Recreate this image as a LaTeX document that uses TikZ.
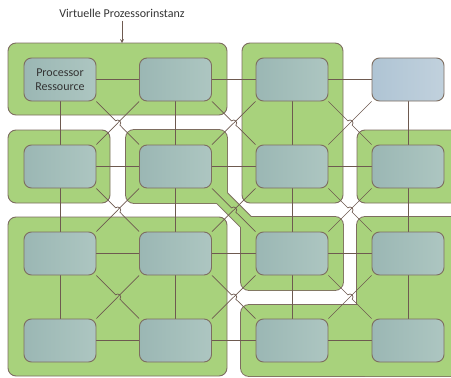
\documentclass[tikz,border=0pt]{standalone}
\usepackage{fontspec}
\setmainfont{Carlito}
\usetikzlibrary{calc,shapes,arrows}

\definecolor{vmgreen}{HTML}{A8D27C}
\definecolor{vmedge}{HTML}{7D6D60}
\definecolor{cpufill}{HTML}{9BB7B4}
\definecolor{cpulight}{HTML}{ADC6C1}
\definecolor{freefill}{HTML}{AFC4D4}
\definecolor{freelight}{HTML}{C1D1DD}
\definecolor{linkcol}{HTML}{6E5A50}

\pgfdeclarelayer{bg}
\pgfsetlayers{bg,main}

\tikzset{
  cpu/.style={draw=vmedge, line width=0.9pt, rounded corners=7.5pt, minimum width=72pt, minimum height=43pt,
    left color=cpufill, right color=cpulight, inner sep=0pt, align=center, text=black!80,
    font=\fontsize{12}{14}\selectfont},
  freecpu/.style={cpu, left color=freefill, right color=freelight},
  link/.style={draw=linkcol, line width=0.7pt},
  hop/.style={to path={-- ($(\tikztostart)!0.5!(\tikztotarget)!3pt!(\tikztostart)$)
    arc[start angle=225, end angle=405, radius=3] -- (\tikztotarget)}},
  vmbox/.style={draw=vmedge, fill=vmgreen, line width=0.9pt, rounded corners=8pt},
  vmrim/.style={draw=vmedge, line width=1.8pt, rounded corners=8pt},
  vmfill/.style={fill=vmgreen, rounded corners=8pt}
}

\begin{document}
\begin{tikzpicture}[x=1pt, y=-1pt]
    \useasboundingbox (0,0) rectangle (451,378);

    \node[cpu] (p00) at (60,79.5) {Processor\\Ressource};
    \node[cpu] (p01) at (175.5,79.5) {};
    \node[cpu] (p02) at (292,79.5) {};
    \node[freecpu] (p03) at (408,79.5) {};
    \node[cpu] (p10) at (60,166.5) {};
    \node[cpu] (p11) at (175.5,166.5) {};
    \node[cpu] (p12) at (292,166.5) {};
    \node[cpu] (p13) at (408,166.5) {};
    \node[cpu] (p20) at (60,253.5) {};
    \node[cpu] (p21) at (175.5,253.5) {};
    \node[cpu] (p22) at (292,253.5) {};
    \node[cpu] (p23) at (408,253.5) {};
    \node[cpu] (p30) at (60,340.5) {};
    \node[cpu] (p31) at (175.5,340.5) {};
    \node[cpu] (p32) at (292,340.5) {};
    \node[cpu] (p33) at (408,340.5) {};

    \node[font=\fontsize{12}{14}\selectfont, text=black!80] (title) at (122,13) {Virtuelle Prozessorinstanz};
    \coordinate (vmtop) at (122,43);
    \draw[link, -stealth] (title) -- (vmtop);

    \begin{pgfonlayer}{bg}
    % virtuelle instanzen
    \draw[vmbox] (8,43) rectangle (227,115);
    \draw[vmbox] (8,130) rectangle (110,203);
    \draw[vmbox] (242,43) rectangle (343,203);
    \draw[vmbox] (357,130) rectangle (462,203);
    \draw[vmbox] (8,217) rectangle (227,376);

    \draw[vmrim] (126,130) rectangle (227,203);
    \draw[vmrim] (241,217) rectangle (343,290);
    \draw[vmrim] (205,171) -- (273,239) -- (263,249) -- (195,181) -- cycle;
    \fill[vmfill] (126,130) rectangle (227,203);
    \fill[vmfill] (241,217) rectangle (343,290);
    \fill[vmfill] (205,171) -- (273,239) -- (263,249) -- (195,181) -- cycle;

    \draw[vmrim] (357,217) rectangle (462,376);
    \draw[vmrim] (241,305) rectangle (462,376);
    \fill[vmfill] (357,217) rectangle (462,376);
    \fill[vmfill] (241,305) rectangle (462,376);

    % verbindungen
    \draw[link] (p00) -- (p01) -- (p02) -- (p03);
    \draw[link] (p10) -- (p11) -- (p12) -- (p13);
    \draw[link] (p20) -- (p21) -- (p22) -- (p23);
    \draw[link] (p30) -- (p31) -- (p32) -- (p33);
    \draw[link] (p00) -- (p10) -- (p20) -- (p30);
    \draw[link] (p01) -- (p11) -- (p21) -- (p31);
    \draw[link] (p02) -- (p12) -- (p22) -- (p32);
    \draw[link] (p03) -- (p13) -- (p23) -- (p33);

    \draw[link] (p00.south east) to[hop] (p11.north west) (p01.south east) to[hop] (p12.north west) (p02.south east) to[hop] (p13.north west);
    \draw[link] (p10.south east) to[hop] (p21.north west) (p11.south east) to[hop] (p22.north west) (p12.south east) to[hop] (p23.north west);
    \draw[link] (p20.south east) to[hop] (p31.north west) (p21.south east) to[hop] (p32.north west) (p22.south east) to[hop] (p33.north west);
    \draw[link] (p01.south west) -- (p10.north east) (p02.south west) -- (p11.north east) (p03.south west) -- (p12.north east);
    \draw[link] (p11.south west) -- (p20.north east) (p12.south west) -- (p21.north east) (p13.south west) -- (p22.north east);
    \draw[link] (p21.south west) -- (p30.north east) (p22.south west) -- (p31.north east) (p23.south west) -- (p32.north east);
    \end{pgfonlayer}
\end{tikzpicture}
\end{document}
